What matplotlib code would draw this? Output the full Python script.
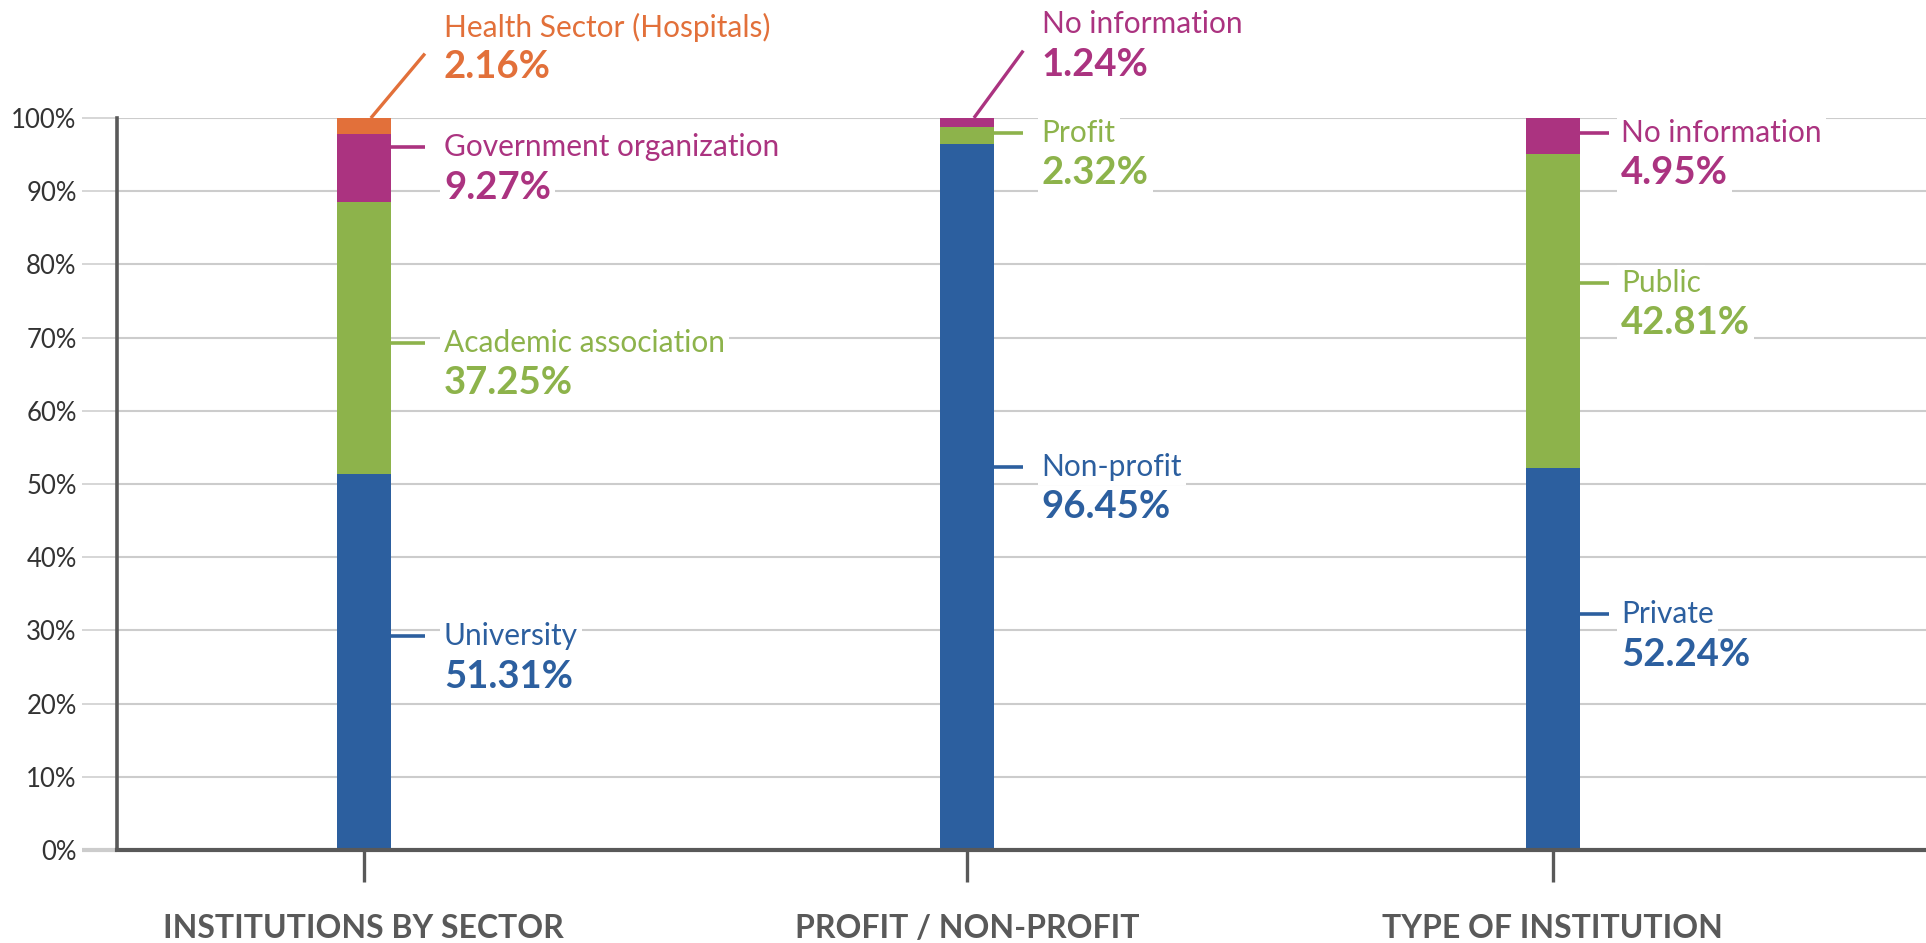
import numpy as np
import matplotlib
matplotlib.use("Agg")
import matplotlib.pyplot as plt

plt.rcParams['font.family'] = ['Lato', 'DejaVu Sans']

# ---------------- data ----------------
categories = ["INSTITUTIONS BY SECTOR", "PROFIT / NON-PROFIT", "TYPE OF INSTITUTION"]
sector_names = ["University", "Academic association", "Government organization", "Health Sector (Hospitals)"]
sector_values = [51.31, 37.25, 9.27, 2.16]
profit_names = ["Non-profit", "Profit", "No information"]
profit_values = [96.45, 2.32, 1.24]
type_names = ["Private", "Public", "No information"]
type_values = [52.24, 42.81, 4.95]
y_ticks = [0, 10, 20, 30, 40, 50, 60, 70, 80, 90, 100]
y_tick_labels = [f"{v}%" for v in y_ticks]

# ---------------- layout / style ----------------
BLUE, GREEN, MAGENTA, ORANGE = "#2C5F9F", "#8DB34B", "#AB3380", "#E2703A"
seg_colors = [BLUE, GREEN, MAGENTA, ORANGE]
DARK = "#595959"
GRID = "#CCCCCC"

# bar positions along the x axis (layout)
xpos = np.array([0.0, 1.0145, 2.0])
text_dx = [0.135, 0.126, 0.115]
leader_dx = [0.103, 0.095, 0.095]

# label anchor heights (data units) and leader style per segment
label_y = [[29.2, 69.3, 96.0, 112.4], [52.3, 98.0, 112.8], [32.2, 77.5, 98.0]]
diag = [[False, False, False, True], [False, False, True], [False, False, False]]

groups = [(sector_names, sector_values), (profit_names, profit_values), (type_names, type_values)]

W, H = 1926, 943
fig = plt.figure(figsize=(W / 100, H / 100), dpi=100)
ax = fig.add_axes([117 / W, 1 - 850 / H, 1 - 117 / W, (850 - 118) / H])

bar_w = 0.091

for i, (names, vals) in enumerate(groups):
    bottoms = np.concatenate([[0], np.cumsum(vals)[:-1]])
    ax.bar([xpos[i]] * len(vals), vals, bottom=bottoms, width=bar_w,
           color=seg_colors[:len(vals)], zorder=3, linewidth=0)
    tops = np.cumsum(vals)
    for j, (n, v) in enumerate(zip(names, vals)):
        c = seg_colors[j]
        ly = label_y[i][j]
        tx = xpos[i] + text_dx[i]
        if diag[i][j]:
            ax.plot([xpos[i] + 0.012, xpos[i] + leader_dx[i]], [tops[j], ly - 3.6],
                    color=c, lw=2.4, clip_on=False, zorder=4, solid_capstyle='butt')
        else:
            ax.plot([xpos[i] + bar_w / 2, xpos[i] + leader_dx[i]], [ly, ly],
                    color=c, lw=2.6, clip_on=False, zorder=4, solid_capstyle='butt')
        ax.text(tx, ly, n, color=c, fontsize=21.5, va='center', ha='left',
                zorder=5, clip_on=False,
                bbox=dict(facecolor='white', edgecolor='none', pad=3))
        ax.text(tx, ly - 5.5, f"{v:.2f}%", color=c, fontsize=27.5, fontweight='bold',
                va='center', ha='left', zorder=5, clip_on=False,
                bbox=dict(facecolor='white', edgecolor='none', pad=3))

ax.set_xlim(-0.415, 2.628)
ax.set_ylim(0, 100)

ax.set_yticks(y_ticks)
ax.set_yticklabels(y_tick_labels, fontsize=18.5, color="#333333")
ax.yaxis.grid(True, color=GRID, lw=1.5, zorder=0)
ax.set_axisbelow(True)
ax.tick_params(axis='y', length=25, width=1.1, color=GRID, pad=4)
yt = ax.yaxis.get_major_ticks()
yt[0].tick1line.set_color(DARK)
yt[0].tick1line.set_markeredgewidth(3)

ax.set_xticks(xpos)
ax.set_xticklabels(categories, fontsize=23, fontweight='bold', color=DARK)
ax.tick_params(axis='x', length=23, width=2.4, color=DARK, pad=23, direction='out')

for s in ['top', 'right']:
    ax.spines[s].set_visible(False)
ax.spines['left'].set_color(DARK)
ax.spines['left'].set_linewidth(2.6)
ax.spines['bottom'].set_color(DARK)
ax.spines['bottom'].set_linewidth(3)
ax.spines['bottom'].set_zorder(4)

fig.savefig("out.png", dpi=100, facecolor='white')
